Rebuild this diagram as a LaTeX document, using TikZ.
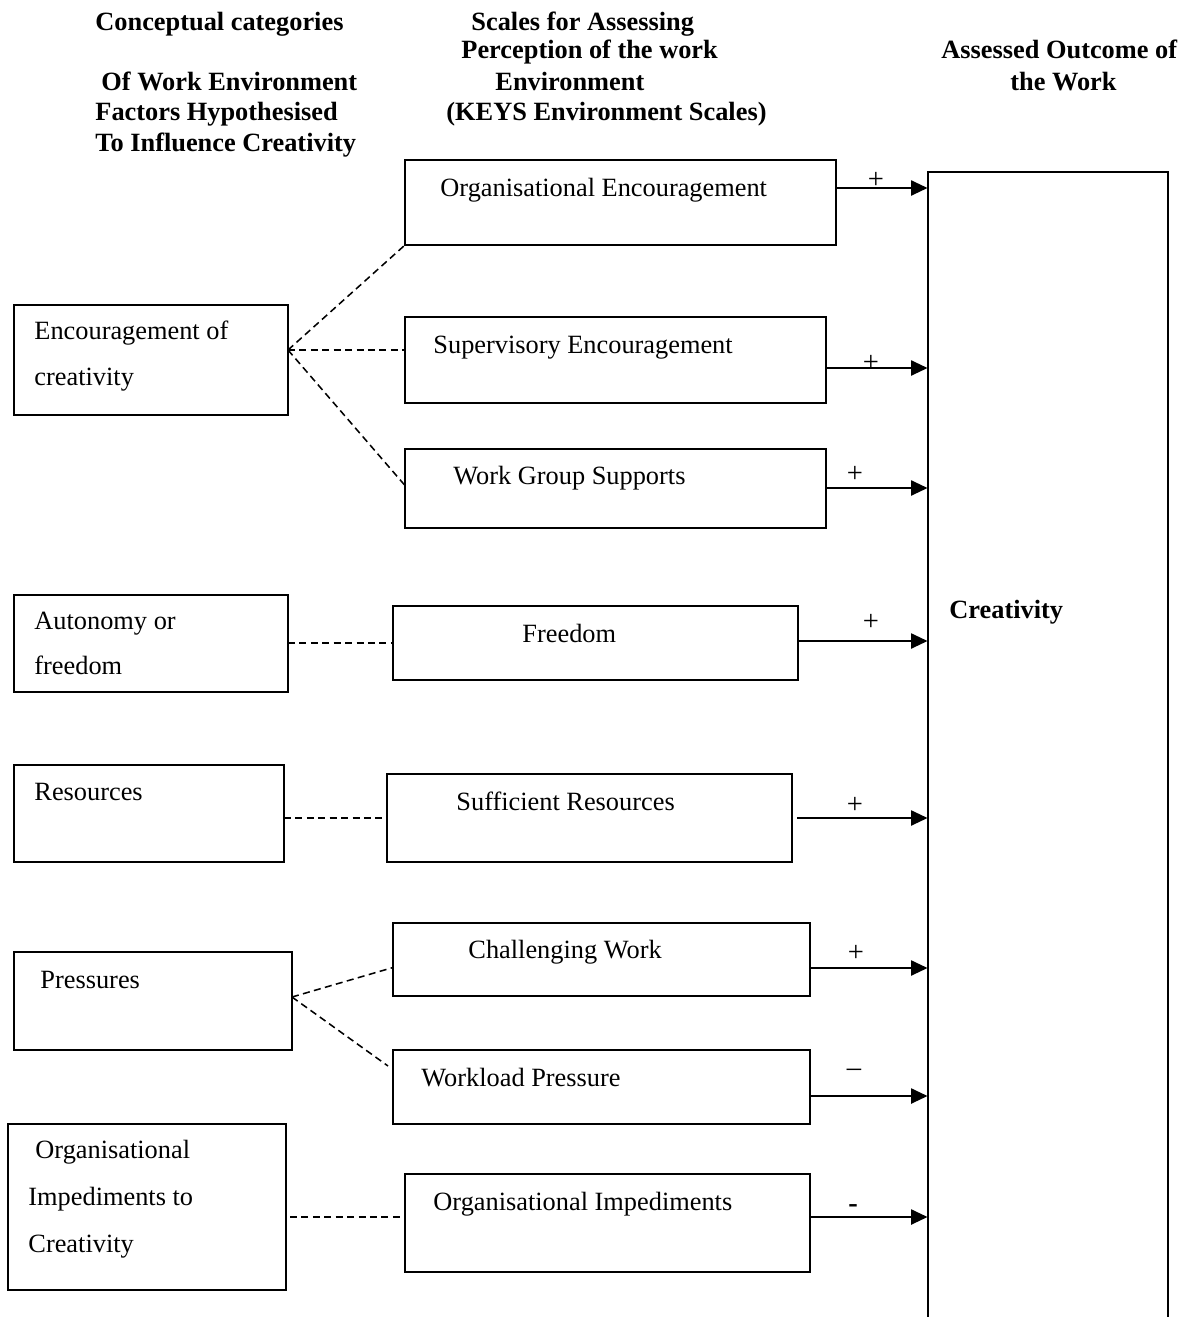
\documentclass[tikz,border=0pt]{standalone}
\usepackage{fontspec}
\setmainfont{Liberation Serif}
\usetikzlibrary{fit,calc,arrows.meta}
\begin{document}
\begin{tikzpicture}[x=0.016cm,y=-0.016cm,
  box/.style={draw,line width=0.9pt,inner sep=0pt,outer sep=0pt},
  txt/.style={anchor=base west,inner sep=0pt,font=\fontsize{12}{14}\selectfont},
  head/.style={anchor=base west,inner sep=0pt,font=\fontsize{12}{14}\selectfont\bfseries},
  sign/.style={inner sep=0pt,font=\fontsize{13}{15}\selectfont},
  link/.style={line width=0.7pt,dash pattern=on 3.2pt off 2pt},
  arr/.style={line width=1.1pt,-{Triangle[length=7.5pt,width=6.8pt]}}]
\useasboundingbox (0,0) rectangle (1188,1317);

% column headings
\node[head] (h1) at (95,30) {Conceptual categories};
\node[head] (h2) at (101,90) {Of Work Environment};
\node[head] (h3) at (95,120) {Factors Hypothesised};
\node[head] (h4) at (95,151) {To Influence Creativity};
\node[head] (h5) at (471,30) {Scales for Assessing};
\node[head] (h6) at (461,58) {Perception of the work};
\node[head] (h7) at (495,90) {Environment};
\node[head] (h8) at (446,120) {(KEYS Environment Scales)};
\node[head] (h9) at (941,58) {Assessed Outcome of};
\node[head] (h10) at (1010,90) {the Work};

% KEYS scale boxes
\node[box,fit={(405,160)(836,245)}] (oe) {};
\node[box,fit={(405,317)(826,403)}] (se) {};
\node[box,fit={(405,449)(826,528)}] (wg) {};
\node[box,fit={(393,606)(798,680)}] (fr) {};
\node[box,fit={(387,774)(792,862)}] (sr) {};
\node[box,fit={(393,923)(810,996)}] (cw) {};
\node[box,fit={(393,1050)(810,1124)}] (wp) {};
\node[box,fit={(405,1174)(810,1272)}] (oi) {};
\node[txt] (toe) at (440,196) {Organisational Encouragement};
\node[txt] (tse) at (433,353) {Supervisory Encouragement};
\node[txt] (twg) at (453,484) {Work Group Supports};
\node[txt] (tfr) at (522,642) {Freedom};
\node[txt] (tsr) at (456,810) {Sufficient Resources};
\node[txt] (tcw) at (468,958) {Challenging Work};
\node[txt] (twp) at (421,1086) {Workload Pressure};
\node[txt] (toi) at (433,1210) {Organisational Impediments};

% conceptual category boxes
\node[box,fit={(14,305)(288,415)}] (enc) {};
\node[box,fit={(14,595)(288,692)}] (aut) {};
\node[box,fit={(14,765)(284,862)}] (res) {};
\node[box,fit={(14,952)(292,1050)}] (pres) {};
\node[box,fit={(8,1124)(286,1290)}] (imp) {};
\node[txt] (tenc1) at (34,339) {Encouragement of};
\node[txt] (tenc2) at (34,385) {creativity};
\node[txt] (taut1) at (34,629) {Autonomy or};
\node[txt] (taut2) at (34,674) {freedom};
\node[txt] (tres) at (34,800) {Resources};
\node[txt] (tpres) at (40,988) {Pressures};
\node[txt] (timp1) at (35,1158) {Organisational};
\node[txt] (timp2) at (28,1205) {Impediments to};
\node[txt] (timp3) at (28,1252) {Creativity};

% outcome column, open at the bottom
\node[inner sep=0pt,fit={(928,172)(1168,1317)}] (cr) {};
\draw[line width=0.9pt] (cr.south west) -- (cr.north west) -- (cr.north east) -- (cr.south east);
\node[head] (tcr) at (949,618) {Creativity};

% dashed links from categories to scales
\coordinate (encp) at ($(enc.east)+(0,-10)$);
\draw[link] (encp) -- (oe.south west);
\draw[link] (encp) -- (se.west |- encp);
\draw[link] (encp) -- ($(wg.west)+(0,-3)$);
\draw[link] (aut.east |- fr.west) -- (fr.west);
\draw[link] (res.east |- sr.west) -- (sr.west);
\coordinate (presp) at ($(pres.east)+(0,-4)$);
\draw[link] (presp) -- ($(cw.west)+(0,8)$);
\draw[link] (presp) -- ($(wp.west)+(-5,-21)$);
\draw[link] ($(imp.east)+(4,10)$) -- (oi.west |- 0,1217);

% arrows into the outcome
\draw[arr] (oe.east |- 0,188) -- (cr.west |- 0,188);
\draw[arr] (se.east |- 0,368) -- (cr.west |- 0,368);
\draw[arr] (wg.east |- 0,488) -- (cr.west |- 0,488);
\draw[arr] (fr.east |- 0,641) -- (cr.west |- 0,641);
\draw[arr] ($(sr.east |- 0,818)+(5,0)$) -- (cr.west |- 0,818);
\draw[arr] (cw.east |- 0,968) -- (cr.west |- 0,968);
\draw[arr] (wp.east |- 0,1096) -- (cr.west |- 0,1096);
\draw[arr] (oi.east |- 0,1217) -- (cr.west |- 0,1217);

% signs of the effects
\node[sign] (s1) at (876,180) {+};
\node[sign] (s2) at (871,363) {+};
\node[sign] (s3) at (855,474) {+};
\node[sign] (s4) at (871,622) {+};
\node[sign] (s5) at (855,805) {+};
\node[sign] (s6) at (856,953) {+};
\node[sign] (s7) at (854,1073) {\textendash};
\node[sign,font=\fontsize{13}{15}\selectfont\bfseries] (s8) at (853,1209) {-};
\end{tikzpicture}
\end{document}
